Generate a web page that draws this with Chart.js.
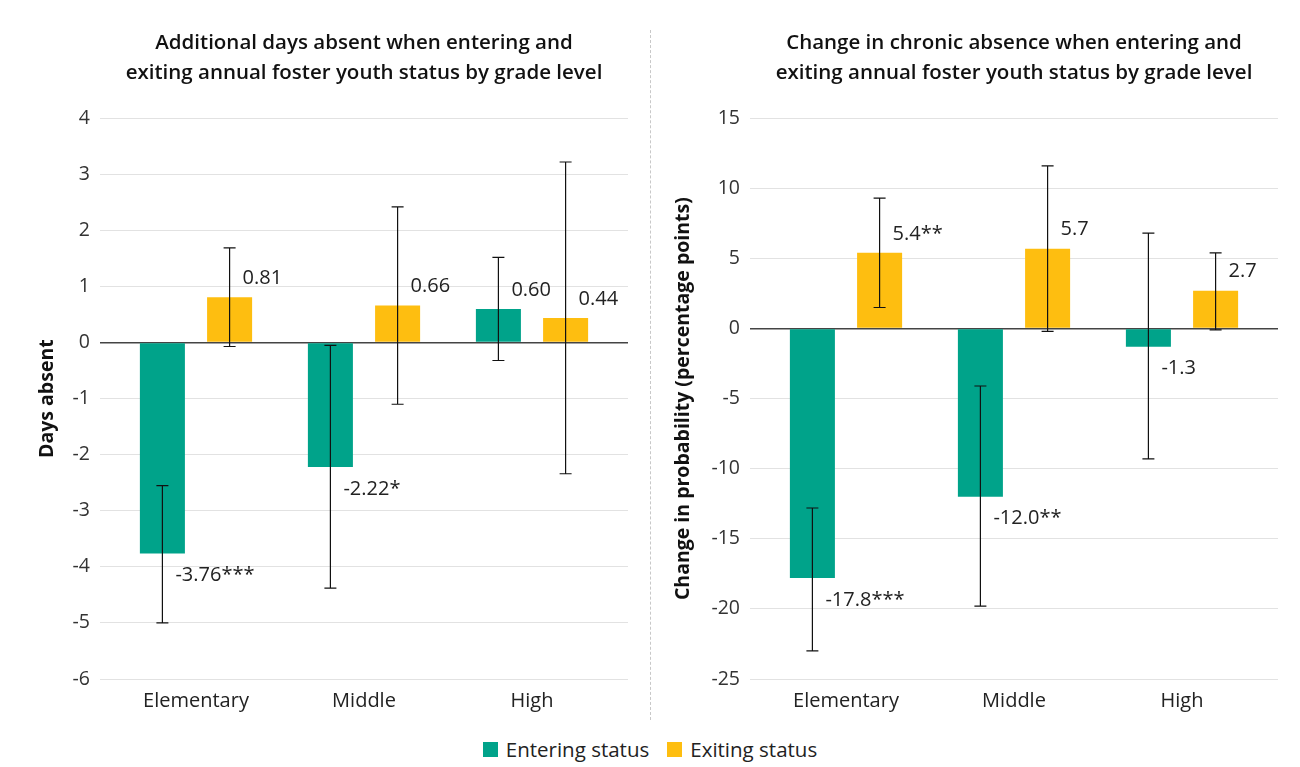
<!DOCTYPE html>
<html><head><meta charset="utf-8">
<script src="https://cdn.jsdelivr.net/npm/chart.js@4/dist/chart.umd.min.js"></script>
<style>
body{margin:0;background:#fff;width:1300px;height:767px;overflow:hidden;font-family:'Open Sans',sans-serif}
#wrap{position:relative;width:1300px;height:767px}
.c{position:absolute;top:0;width:650px;height:723px}
#divider{position:absolute;left:650px;top:30px;height:690px;border-left:1px dashed #c8c8c8}
#legend{position:absolute;top:735px;left:0;width:1300px;display:flex;justify-content:center;gap:18px;font-size:20.5px;color:#222;line-height:28px}
.item{display:flex;align-items:center}
.sw{width:15px;height:15px;margin-right:8px}
</style></head>
<body>
<div id="wrap">
  <div class="c" style="left:0"><canvas id="c1" width="650" height="723"></canvas></div>
  <div id="divider"></div>
  <div class="c" style="left:650px"><canvas id="c2" width="650" height="723"></canvas></div>
  <div id="legend"></div>
</div>
<script>
const categories = ['Elementary', 'Middle', 'High'];
const seriesNames = ['Entering status', 'Exiting status'];
const seriesColors = ['#00A38A', '#FEBE10'];

const daysTitle = ['Additional days absent when entering and', 'exiting annual foster youth status by grade level'];
const daysAxisTitle = 'Days absent';
const daysTicks = [-6, 4, 1];
const daysEntering = [-3.76, -2.22, 0.60];
const daysExiting = [0.81, 0.66, 0.44];
const daysEnteringLow = [-5.00, -4.38, -0.32];
const daysEnteringHigh = [-2.55, -0.05, 1.52];
const daysExitingLow = [-0.07, -1.10, -2.34];
const daysExitingHigh = [1.69, 2.42, 3.22];
const daysEnteringLabels = ['-3.76***', '-2.22*', '0.60'];
const daysExitingLabels = ['0.81', '0.66', '0.44'];

const chronicTitle = ['Change in chronic absence when entering and', 'exiting annual foster youth status by grade level'];
const chronicAxisTitle = 'Change in probability (percentage points)';
const chronicTicks = [-25, 15, 5];
const chronicEntering = [-17.8, -12.0, -1.3];
const chronicExiting = [5.4, 5.7, 2.7];
const chronicEnteringLow = [-23.0, -19.8, -9.3];
const chronicEnteringHigh = [-12.8, -4.1, 6.8];
const chronicExitingLow = [1.5, -0.2, -0.1];
const chronicExitingHigh = [9.3, 11.6, 5.4];
const chronicEnteringLabels = ['-17.8***', '-12.0**', '-1.3'];
const chronicExitingLabels = ['5.4**', '5.7', '2.7'];

const FONT = "'Open Sans', sans-serif";
Chart.defaults.font.family = FONT;
Chart.defaults.color = '#222';

const errorBarPlugin = {
  id: 'errorBars',
  afterDatasetsDraw(chart) {
    const ctx = chart.ctx;
    const yScale = chart.scales.y;
    chart.data.datasets.forEach((ds, i) => {
      const meta = chart.getDatasetMeta(i);
      meta.data.forEach((bar, j) => {
        const x = bar.x;
        const yl = yScale.getPixelForValue(ds.errLow[j]);
        const yh = yScale.getPixelForValue(ds.errHigh[j]);
        ctx.save();
        ctx.strokeStyle = '#111';
        ctx.lineWidth = 1.2;
        ctx.beginPath();
        ctx.moveTo(x, yl); ctx.lineTo(x, yh);
        ctx.moveTo(x - 6, yl); ctx.lineTo(x + 6, yl);
        ctx.moveTo(x - 6, yh); ctx.lineTo(x + 6, yh);
        ctx.stroke();
        const v = ds.data[j];
        const ty = bar.y + (v >= 0 ? -19 : 22);
        ctx.fillStyle = '#222';
        ctx.font = '20px ' + FONT;
        ctx.textAlign = 'left';
        ctx.textBaseline = 'middle';
        ctx.fillText(ds.valueLabels[j], x + 13, ty);
        ctx.restore();
      });
    });
  }
};

function makeChart(id, title, axisTitle, ticks, ent, exi, entLo, entHi, exiLo, exiHi, entLab, exiLab, titlePad) {
  const [mn, mx, step] = ticks;
  return new Chart(document.getElementById(id), {
    type: 'bar',
    data: {
      labels: categories,
      datasets: [
        { label: seriesNames[0], data: ent, backgroundColor: seriesColors[0], errLow: entLo, errHigh: entHi, valueLabels: entLab },
        { label: seriesNames[1], data: exi, backgroundColor: seriesColors[1], errLow: exiLo, errHigh: exiHi, valueLabels: exiLab }
      ]
    },
    options: {
      responsive: false,
      animation: false,
      events: [],
      datasets: { bar: { categoryPercentage: 0.80, barPercentage: 0.67 } },
      layout: { padding: { left: 0, right: 22, top: 0, bottom: 0 } },
      plugins: {
        legend: { display: false },
        tooltip: { enabled: false },
        title: {
          display: true, text: title, color: '#111', fullSize: false,
          font: { size: 20.5, weight: '600', lineHeight: 1.47 },
          padding: { top: 28, bottom: 30 }
        }
      },
      scales: {
        x: {
          grid: { display: false, drawTicks: false }, border: { display: false },
          ticks: { font: { size: 20 }, color: '#222', padding: 10 },
          afterBuildTicks: (s) => { s._startValue -= 0.0714; s._valueRange += 0.1428; }
        },
        y: {
          min: mn, max: mx,
          afterFit: (s) => { s.width = 100; },
          border: { display: false },
          grid: {
            drawTicks: false,
            color: (c) => c.tick && c.tick.value === 0 ? '#444' : '#e2e2e2',
            lineWidth: (c) => c.tick && c.tick.value === 0 ? 1.5 : 1
          },
          ticks: { stepSize: step, font: { size: 19.5 }, color: '#333', padding: 10 },
          title: { display: true, text: axisTitle, color: '#111', font: { size: 19.5, weight: 'bold' }, padding: { top: titlePad, bottom: 0 } }
        }
      }
    },
    plugins: [errorBarPlugin]
  });
}

makeChart('c1', daysTitle, daysAxisTitle, daysTicks, daysEntering, daysExiting,
  daysEnteringLow, daysEnteringHigh, daysExitingLow, daysExitingHigh, daysEnteringLabels, daysExitingLabels, 36);
makeChart('c2', chronicTitle, chronicAxisTitle, chronicTicks, chronicEntering, chronicExiting,
  chronicEnteringLow, chronicEnteringHigh, chronicExitingLow, chronicExitingHigh, chronicEnteringLabels, chronicExitingLabels, 22);

const legend = document.getElementById('legend');
seriesNames.forEach((n, i) => {
  const it = document.createElement('div'); it.className = 'item';
  const sw = document.createElement('span'); sw.className = 'sw'; sw.style.background = seriesColors[i];
  const t = document.createElement('span'); t.textContent = n;
  it.appendChild(sw); it.appendChild(t); legend.appendChild(it);
});
</script>
</body></html>
